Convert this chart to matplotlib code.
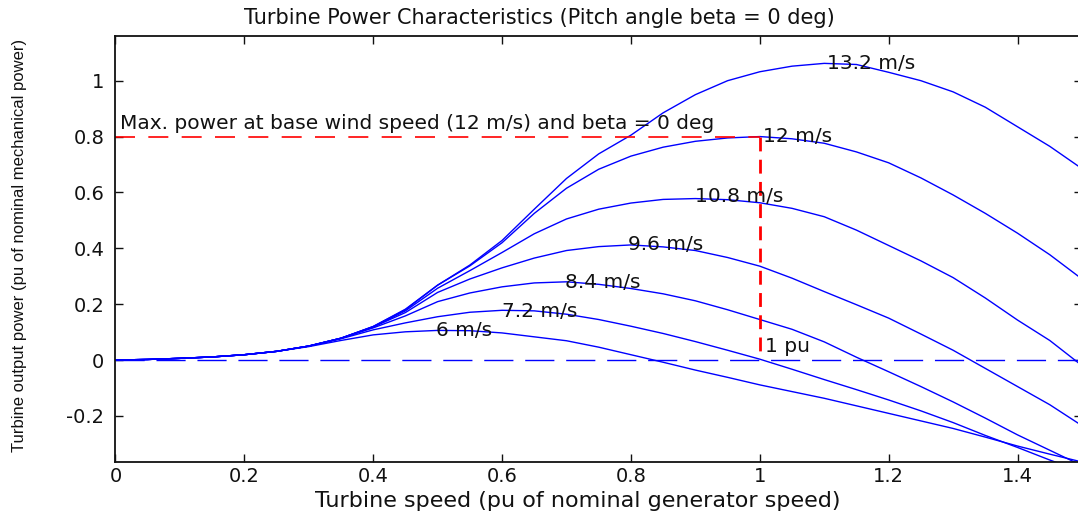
import matplotlib
matplotlib.use('Agg')
import matplotlib.pyplot as plt
import matplotlib.ticker as mticker

speed = [0, 0.05, 0.1, 0.15, 0.2, 0.25, 0.3, 0.35, 0.4, 0.45, 0.5, 0.55, 0.6, 0.65, 0.7, 0.75,
         0.8, 0.85, 0.9, 0.95, 1.0, 1.05, 1.1, 1.15, 1.2, 1.25, 1.3, 1.35, 1.4, 1.45, 1.5]

p_6 = [0, .002, .006, .011, .019, .031, .048, .070, .090, .101, .106, .105, .097, .083, .069, .046,
       .019, -.008, -.036, -.062, -.089, -.113, -.137, -.164, -.191, -.218, -.245, -.276, -.308, -.337, -.365]
p_72 = [0, .002, .006, .011, .019, .031, .050, .076, .108, .133, .155, .171, .178, .176, .164, .145,
        .121, .095, .066, .035, .003, -.033, -.070, -.106, -.143, -.182, -.224, -.270, -.313, -.358, -.400]
p_84 = [0, .002, .006, .011, .019, .031, .050, .078, .115, .158, .209, .240, .262, .276, .280, .271,
        .256, .237, .212, .180, .145, .110, .065, .010, -.042, -.095, -.150, -.208, -.268, -.323, -.378]
p_96 = [0, .002, .006, .011, .019, .031, .050, .078, .118, .170, .242, .290, .330, .365, .392, .406,
        .412, .405, .392, .367, .336, .293, .245, .198, .150, .093, .035, -.030, -.095, -.160, -.235]
p_108 = [0, .002, .006, .011, .019, .031, .050, .078, .119, .176, .257, .320, .385, .452, .505, .540,
         .562, .575, .578, .574, .563, .543, .513, .465, .410, .355, .295, .222, .143, .070, -.020]
p_12 = [0, .002, .006, .011, .019, .031, .050, .078, .120, .180, .268, .337, .420, .525, .615, .683,
        .730, .762, .783, .795, .800, .792, .776, .745, .706, .652, .591, .525, .454, .377, .290]
p_132 = [0, .002, .006, .011, .019, .031, .050, .078, .120, .182, .268, .340, .428, .540, .650, .738,
         .805, .885, .950, 1.000, 1.032, 1.052, 1.062, 1.058, 1.030, 1.000, .960, .905, .835, .765, .685]

curves = [p_6, p_72, p_84, p_96, p_108, p_12, p_132]
labels = ['6 m/s', '7.2 m/s', '8.4 m/s', '9.6 m/s', '10.8 m/s', '12 m/s', '13.2 m/s']
label_x = [0.497, 0.600, 0.698, 0.795, 0.900, 1.005, 1.105]
label_y = [0.104, 0.172, 0.276, 0.412, 0.584, 0.800, 1.063]

base_power = 0.8
base_speed = 1.0

fig = plt.figure(figsize=(10.78, 5.15), dpi=100)
ax = fig.add_axes([0.1071, 0.1035, 0.8966, 0.8266])

for p in curves:
    ax.plot(speed, p, color='#0000ff', lw=1.0)

zl, = ax.plot([0, 1.5], [0, 0], color='#0000ff', lw=1.0)
zl.set_dashes((21, 8.5))
hl, = ax.plot([0, base_speed], [base_power, base_power], color='#ff0000', lw=1.2)
hl.set_dashes((12, 8))
vl, = ax.plot([base_speed, base_speed], [base_power, 0.02], color='#ff0000', lw=2.0)
vl.set_dashes((5, 3))

fs = 14.5
for t, x, y in zip(labels, label_x, label_y):
    ax.text(x, y, t, ha='left', va='center', fontsize=fs, color='#111111')
ax.text(0.007, 0.845, 'Max. power at base wind speed (12 m/s) and beta = 0 deg',
        ha='left', va='center', fontsize=fs, color='#111111')
ax.text(1.008, 0.05, '1 pu', ha='left', va='center', fontsize=fs, color='#111111')

ax.set_xlim(0, 1.5)
ax.set_ylim(-0.364, 1.16)
ax.set_xticks([0, 0.2, 0.4, 0.6, 0.8, 1.0, 1.2, 1.4])
ax.set_yticks([-0.2, 0, 0.2, 0.4, 0.6, 0.8, 1.0])
fmt = lambda v, pos: '{:.6f}'.format(v).rstrip('0').rstrip('.') if abs(v) > 1e-9 else '0'
ax.xaxis.set_major_formatter(mticker.FuncFormatter(fmt))
ax.yaxis.set_major_formatter(mticker.FuncFormatter(fmt))
ax.tick_params(direction='in', length=6, width=1.0, top=True, right=True,
               labelsize=14, colors='#111111')
ax.tick_params(axis='x', pad=4)
ax.tick_params(axis='y', pad=8)
for s in ax.spines.values():
    s.set_linewidth(1.3)
    s.set_color('#111111')

fig.text(0.5, 1 - 18 / 515, 'Turbine Power Characteristics (Pitch angle beta = 0 deg)',
         ha='center', va='center', fontsize=15, color='#111111')
ax.set_xlabel('Turbine speed (pu of nominal generator speed)', fontsize=16, color='#111111')
ax.xaxis.set_label_coords(0.478, -0.092)
ax.xaxis.label.set_va('center')
ax.set_ylabel('Turbine output power (pu of nominal mechanical power)', fontsize=12,
              family='Liberation Sans', color='#111111')
ax.yaxis.set_label_coords(-0.099, 0.507)
ax.yaxis.label.set_va('center')

fig.savefig('out.png', dpi=100, facecolor='white')
